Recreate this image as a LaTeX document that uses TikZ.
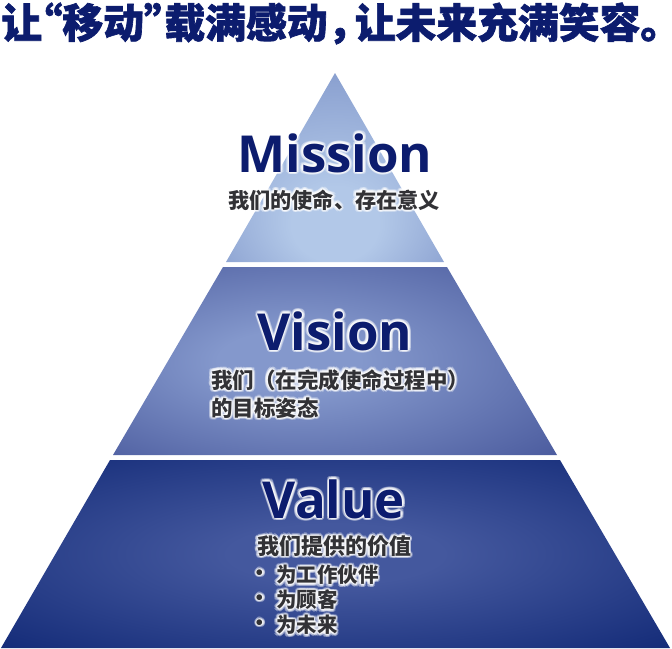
\documentclass[tikz,border=0pt]{standalone}
\usepackage{fontspec}
\setmainfont{Open Sans}
\newfontfamily\cjk{Noto Sans CJK SC}
\newfontfamily\cjkheavy[RawFeature=+halt, BoldFeatures={FakeBold=1.6}]{Noto Sans CJK SC}
\usetikzlibrary{positioning}

\definecolor{navy}{RGB}{12,28,110}
\definecolor{inktext}{RGB}{50,50,54}
\definecolor{topin}{RGB}{178,200,232}
\definecolor{topout}{RGB}{122,144,198}
\definecolor{midin}{RGB}{132,152,204}
\definecolor{midout}{RGB}{70,86,154}
\definecolor{botin}{RGB}{68,88,158}
\definecolor{botout}{RGB}{12,36,114}

\pgfdeclareradialshading{glowtop}{\pgfpoint{0bp}{-18bp}}{color(0bp)=(topin);color(10bp)=(topin);color(42bp)=(topout);color(60bp)=(topout)}
\pgfdeclareradialshading{glowmid}{\pgfpoint{-6bp}{0bp}}{color(0bp)=(midin);color(8bp)=(midin);color(40bp)=(midout);color(60bp)=(midout)}
\pgfdeclareradialshading{glowbot}{\pgfpoint{0bp}{0bp}}{color(0bp)=(botin);color(8bp)=(botin);color(40bp)=(botout);color(60bp)=(botout)}

% text with a soft white halo
\newcommand\halo[4][]{%
  \foreach \ang in {0,30,...,330}
    \node[#1, text=white, text opacity=0.3, shift={(\ang:2.6)}] at (#2) {#4};
  \foreach \ang in {15,75,...,315}
    \node[#1, text=white, text opacity=0.45, shift={(\ang:1.3)}] at (#2) {#4};
  \node[#1] (#3) at (#2) {#4};
}

\begin{document}
\begin{tikzpicture}[x=1pt,y=-1pt]
\tikzset{every node/.style={inner sep=0pt},
  heading/.style={text=navy, font=\fontsize{51}{51}\selectfont\bfseries, anchor=base},
  subline/.style={text=inktext, font=\cjk\fontsize{21.5}{21.5}\selectfont\bfseries},
  bullet/.style={subline, font=\cjk\fontsize{20.5}{20.5}\selectfont\bfseries},
  title/.style={text=navy, font=\cjkheavy\fontsize{40.8}{40.8}\selectfont\bfseries}}
\useasboundingbox (0,0) rectangle (672,648);
% pyramid corners
\coordinate (apex) at (335,73);
\coordinate (tl) at (226,262);   \coordinate (tr) at (444,262);
\coordinate (ml) at (223,267);   \coordinate (mr) at (447,267);
\coordinate (mbl) at (113,455);  \coordinate (mbr) at (557,455);
\coordinate (bl) at (110,460);   \coordinate (br) at (560,460);
\coordinate (bbl) at (1,648);    \coordinate (bbr) at (670,648);
\shade[shading=glowtop] (apex) -- (tr) -- (tl) -- cycle;
\shade[shading=glowmid] (ml) -- (mr) -- (mbr) -- (mbl) -- cycle;
\shade[shading=glowbot] (bl) -- (br) -- (bbr) -- (bbl) -- cycle;

\node[title, anchor=base west] (head) at (1,38) {让“移动”载满感动，\,让未来充满笑容。};

\halo[heading]{335,172}{mission}{Mission}
\halo[subline, font=\cjk\fontsize{21.2}{21.2}\selectfont\bfseries]{334,200}{missionsub}{我们的使命、存在意义}

\halo[heading]{335,350}{vision}{Vision}
\halo[subline, anchor=west]{211,380}{visionsub}{我们（在完成使命过程中）}
\halo[subline, anchor=west]{211,408}{visionsubb}{的目标姿态}

\halo[heading]{334,518}{value}{Value}
\halo[subline, font=\cjk\fontsize{22}{22}\selectfont\bfseries]{334,546}{valuesub}{我们提供的价值}
\halo[bullet]{260,575}{dota}{•}
\halo[bullet, anchor=west]{276,575}{partner}{为工作伙伴}
\halo[bullet]{260,600}{dotb}{•}
\halo[bullet, anchor=west]{276,600}{client}{为顾客}
\halo[bullet]{260,625}{dotc}{•}
\halo[bullet, anchor=west]{276,625}{future}{为未来}
\end{tikzpicture}
\end{document}
